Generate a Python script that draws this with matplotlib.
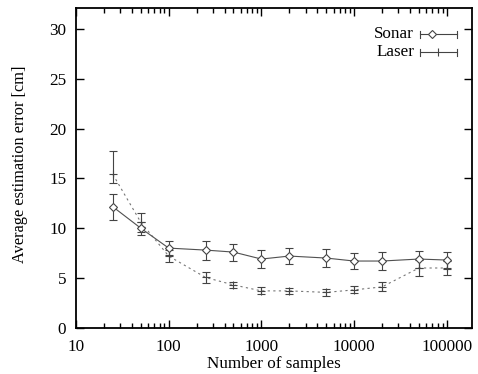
import matplotlib
matplotlib.use("Agg")
import matplotlib.pyplot as plt
import numpy as np

samples = [25, 50, 100, 250, 500, 1000, 2000, 5000, 10000, 20000, 50000, 100000]
sonar = [12.15, 10.0, 8.0, 7.8, 7.6, 6.9, 7.2, 7.0, 6.7, 6.7, 6.9, 6.8]
sonar_lo = [1.3, 0.7, 0.7, 0.95, 0.85, 0.95, 0.8, 0.9, 0.8, 0.9, 0.9, 0.9]
sonar_hi = [1.3, 0.65, 0.7, 0.95, 0.85, 0.95, 0.8, 0.9, 0.8, 0.9, 0.85, 0.85]
laser = [15.4, 10.6, 7.2, 5.05, 4.3, 3.7, 3.7, 3.55, 3.8, 4.1, 6.0, 6.0]
laser_lo = [0.9, 0.95, 0.6, 0.55, 0.3, 0.35, 0.3, 0.35, 0.35, 0.4, 0.8, 0.7]
laser_hi = [2.35, 0.95, 0.6, 0.55, 0.3, 0.35, 0.3, 0.35, 0.35, 0.45, 0.8, 0.7]
xticks = [10, 100, 1000, 10000, 100000]
xticklabels = ["10", "100", "1000", "10000", "100000"]
yticks = [0, 5, 10, 15, 20, 25, 30]

plt.rcParams['font.family'] = ['Liberation Serif', 'DejaVu Serif']
plt.rcParams['font.size'] = 12.3

fig = plt.figure(figsize=(4.78, 3.74), dpi=100)
ax = fig.add_axes([0.159, 0.1238, 0.9874 - 0.159, 0.9778 - 0.1238])

ecol = '#444444'
ax.plot(samples, laser, linestyle=(0, (2, 3)), color='#777777', lw=0.8, zorder=2)
ax.errorbar(samples, laser, yerr=[laser_lo, laser_hi], fmt='+', color=ecol,
            ms=6, mew=0.8, elinewidth=0.8, capsize=3, capthick=0.8, zorder=3)
ax.plot(samples, sonar, linestyle='-', color='#505050', lw=0.8, zorder=2)
ax.errorbar(samples, sonar, yerr=[sonar_lo, sonar_hi], fmt='D', color=ecol,
            mfc='white', ms=4.2, mew=0.8, elinewidth=0.8, capsize=3, capthick=0.8, zorder=4)

ax.set_xscale('log')
ax.set_xlim(10, 1.87e5)
ax.set_ylim(0, 32.1)
ax.set_xticks(xticks)
ax.set_xticklabels(xticklabels)
ax.set_yticks(yticks)
ax.tick_params(which='major', direction='in', length=6, width=1.0, top=True, right=True, pad=7)
ax.tick_params(axis='x', which='major', pad=8)
ax.tick_params(which='minor', direction='in', length=3.5, width=1.0, top=True, right=True)
ax.tick_params(axis='y', which='minor', left=False, right=False)
ax.xaxis.set_minor_formatter(matplotlib.ticker.NullFormatter())
for s in ax.spines.values():
    s.set_linewidth(1.3)

ax.set_xlabel("Number of samples", labelpad=1)
ax.set_ylabel("Average estimation error [cm]", fontsize=11.8)
ax.yaxis.set_label_coords(-0.12, 0.512)

# legend (gnuplot style)
tr = ax.transAxes
def key(yf, label, marker):
    ax.text(0.854, yf, label, transform=tr, ha='right', va='center')
    ax.plot([0.868, 0.963], [yf, yf], transform=tr, color=ecol, lw=0.8, clip_on=False)
    for xe in (0.868, 0.963):
        ax.plot([xe, xe], [yf - 0.011, yf + 0.011], transform=tr, color=ecol, lw=0.8)
    if marker == 'D':
        ax.plot([0.898], [yf], transform=tr, marker='D', ms=4.2, mfc='white', mec=ecol, mew=0.8)
    else:
        ax.plot([0.914], [yf], transform=tr, marker='|', ms=6, color=ecol, mew=0.8)

key(0.918, "Sonar", 'D')
key(0.862, "Laser", '+')

fig.savefig("out.png", dpi=100)
